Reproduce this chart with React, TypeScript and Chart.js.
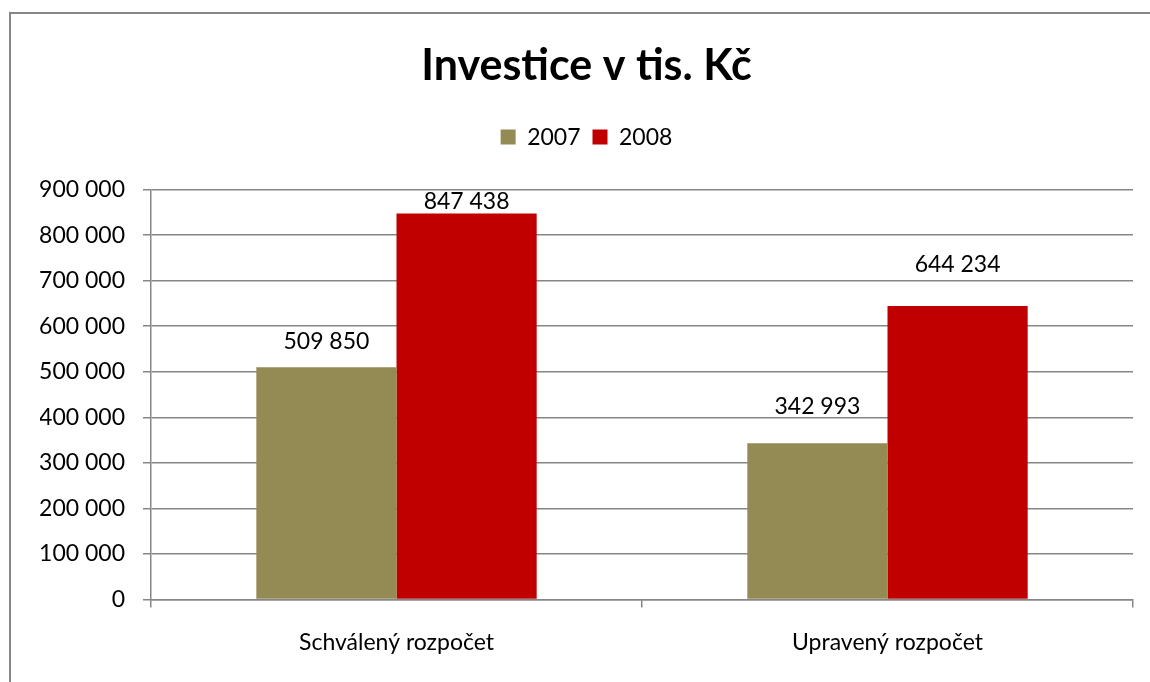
import React, { useEffect, useRef } from "react";
import { Chart, registerables } from "chart.js";

Chart.register(...registerables);

const categories = ["Schválený rozpočet", "Upravený rozpočet"];
const series2007 = [509850, 342993];
const series2008 = [847438, 644234];
const seriesNames = ["2007", "2008"];
const yTicks = { min: 0, max: 900000, step: 100000 };

const labelGaps = [
  [18, 29],
  [5, 34],
];

const fmt = (v: number) =>
  String(Math.round(v)).replace(/\B(?=(\d{3})+(?!\d))/g, " ");

const FONT = "Lato";
const GRID = "#868686";

const valueLabels = {
  id: "valueLabels",
  afterDatasetsDraw(chart: any) {
    const ctx = chart.ctx;
    ctx.save();
    ctx.font = `23px ${FONT}`;
    ctx.fillStyle = "#000";
    ctx.textAlign = "center";
    ctx.textBaseline = "alphabetic";
    chart.data.datasets.forEach((ds: any, di: number) => {
      const meta = chart.getDatasetMeta(di);
      meta.data.forEach((bar: any, i: number) => {
        const gap = labelGaps[di][i];
        ctx.fillText(fmt(ds.data[i]), bar.x, bar.y - gap);
      });
    });
    ctx.restore();
  },
};

export default function App() {
  const ref = useRef<HTMLCanvasElement>(null);
  useEffect(() => {
    if (!ref.current) return;
    const chart = new Chart(ref.current, {
      type: "bar",
      data: {
        labels: categories,
        datasets: [
          {
            label: seriesNames[0],
            data: series2007,
            backgroundColor: "#948A54",
            borderWidth: 0,
            categoryPercentage: 0.571,
            barPercentage: 1,
          },
          {
            label: seriesNames[1],
            data: series2008,
            backgroundColor: "#C00000",
            borderWidth: 0,
            categoryPercentage: 0.571,
            barPercentage: 1,
          },
        ],
      },
      options: {
        animation: false,
        responsive: false,
        maintainAspectRatio: false,
        layout: { padding: { left: 40, right: 17, top: 13, bottom: 5 } },
        plugins: {
          title: {
            display: true,
            text: "Investice v tis. Kč",
            color: "#000",
            font: { family: FONT, size: 43, weight: "bold", lineHeight: 1.2 },
            padding: { top: 27, bottom: 22 },
            weight: 2000,
          },
          subtitle: {
            display: true,
            text: "",
            position: "top",
            weight: 500,
            font: { family: FONT, size: 1, lineHeight: 1 },
            padding: { top: 0, bottom: 30 },
          },
          legend: {
            display: true,
            position: "top",
            labels: {
              color: "#000",
              font: { family: FONT, size: 23 },
              boxWidth: 15,
              boxHeight: 15,
              padding: 12,
            },
          },
          tooltip: { enabled: false },
        },
        scales: {
          x: {
            offset: true,
            grid: {
              display: true,
              drawOnChartArea: false,
              drawTicks: true,
              tickLength: 8,
              color: GRID,
              lineWidth: 1.5,
              offset: true,
            },
            border: { display: true, color: GRID, width: 1.5 },
            ticks: {
              color: "#000",
              font: { family: FONT, size: 23 },
              padding: 21,
              maxRotation: 0,
            },
          },
          y: {
            min: yTicks.min,
            max: yTicks.max,
            afterFit(scale: any) {
              scale.width = 111;
            },
            grid: {
              color: GRID,
              lineWidth: 1.5,
              drawTicks: true,
              tickLength: 8,
            },
            border: { display: true, color: GRID, width: 1.5 },
            ticks: {
              stepSize: yTicks.step,
              color: "#000",
              font: { family: FONT, size: 23 },
              padding: 18,
              callback: (v: any) => fmt(Number(v)),
            },
          },
        },
      },
      plugins: [valueLabels],
    });
    return () => chart.destroy();
  }, []);

  return (
    <div
      style={{
        position: "fixed",
        left: 0,
        top: 0,
        width: 1150,
        height: 682,
        overflow: "hidden",
        background: "#fff",
      }}
    >
      <div
        style={{
          position: "absolute",
          left: 9,
          top: 12,
          width: 1200,
          height: 760,
          border: "2px solid #878787",
        }}
      />
      <canvas
        ref={ref}
        width={1150}
        height={682}
        style={{ position: "absolute", left: 0, top: 0, width: 1150, height: 682 }}
      />
    </div>
  );
}
